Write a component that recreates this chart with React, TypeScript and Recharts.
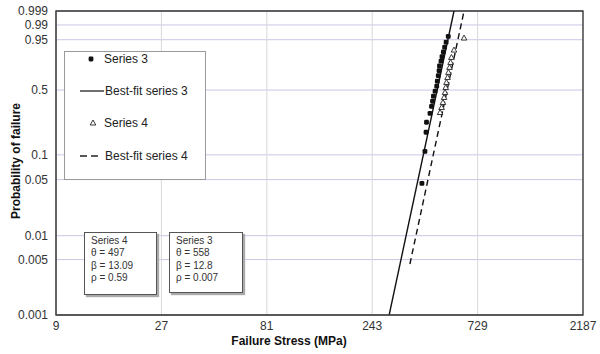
import { ComposedChart, XAxis, YAxis, CartesianGrid, Scatter, Line, Legend, ReferenceArea, Label } from "recharts";

const xTicks = [9, 27, 81, 243, 729, 2187];
const yTickProbs = [0.001, 0.005, 0.01, 0.05, 0.1, 0.5, 0.95, 0.99, 0.999];
const yTickLabels = ["0.001", "0.005", "0.01", "0.05", "0.1", "0.5", "0.95", "0.99", "0.999"];

// failure stress (MPa) and probability of failure
const series3Stress = [408, 421, 426, 428, 444, 451, 456, 460, 468, 476, 479, 484, 488, 490, 498, 503, 510, 517, 525, 537];
const series3Prob = [0.045, 0.11, 0.184, 0.238, 0.297, 0.351, 0.394, 0.44, 0.489, 0.54, 0.593, 0.652, 0.704, 0.754, 0.8, 0.84, 0.877, 0.911, 0.939, 0.963];

const series4Stress = [493, 501, 508, 514, 519, 523, 527, 533, 538, 544, 550, 555, 570, 633];
const series4Prob = [0.303, 0.341, 0.383, 0.428, 0.476, 0.526, 0.579, 0.632, 0.686, 0.738, 0.787, 0.833, 0.891, 0.957];

const fit3Stress = [290, 570];
const fit3Prob = [0.001, 0.999];
const fit4Stress = [360, 633];
const fit4Prob = [0.0044, 0.999];

const series4Params = ["Series 4", "θ = 497", "β = 13.09", "ρ = 0.59"];
const series3Params = ["Series 3", "θ = 558", "β = 12.8", "ρ = 0.007"];

// Weibull probability scale
const weibull = (p: number) => Math.log(-Math.log(1 - p));
const toPoints = (xs: number[], ps: number[]) => xs.map((x, i) => ({ x, y: weibull(ps[i]) }));

const yTicks = yTickProbs.map(weibull);
const yMin = weibull(0.001);
const yMax = weibull(0.999);

const FONT = "'Liberation Sans', Arial, sans-serif";

const yTickFormat = (v: number) => {
  let best = 0;
  yTicks.forEach((t, i) => {
    if (Math.abs(t - v) < Math.abs(yTicks[best] - v)) best = i;
  });
  return yTickLabels[best];
};

const Square = (p: any) => <rect x={p.cx - 2.4} y={p.cy - 2.4} width={4.8} height={4.8} rx={1.3} fill="#111" />;
const Triangle = (p: any) => (
  <path d={`M${p.cx},${p.cy - 3} L${p.cx + 2.8},${p.cy + 2} L${p.cx - 2.8},${p.cy + 2} Z`} fill="#fff" stroke="#222" strokeWidth={0.9} />
);

const renderLegend = () => (
  <svg width={142} height={129} style={{ display: "block" }}>
    <rect x={0.5} y={0.5} width={141} height={128} fill="#fff" stroke="#9a9a9a" />
    <g fontFamily={FONT} fontSize={12} fill="#222">
      <rect x={24.6} y={5.6} width={4.8} height={4.8} rx={1.3} fill="#111" />
      <text x={40} y={8} dominantBaseline="central">Series 3</text>
      <line x1={16} x2={40} y1={40} y2={40} stroke="#222" strokeWidth={1.3} />
      <text x={41} y={40} dominantBaseline="central">Best-fit series 3</text>
      <path d="M29,69 L31.8,74 L26.2,74 Z" fill="#fff" stroke="#222" strokeWidth={0.9} />
      <text x={40} y={72} dominantBaseline="central">Series 4</text>
      <line x1={16} x2={38} y1={105} y2={105} stroke="#222" strokeWidth={1.3} strokeDasharray="7 4" />
      <text x={41} y={105} dominantBaseline="central">Best-fit series 4</text>
    </g>
  </svg>
);

const boxStyle = (left: number, top: number, width: number, height: number): React.CSSProperties => ({
  position: "absolute",
  left,
  top,
  width,
  height,
  boxSizing: "border-box",
  border: "1px solid #555",
  boxShadow: "2px 2px 1px #aaa",
  background: "#fff",
  padding: "2px 0 0 6px",
  fontFamily: FONT,
  fontSize: 10,
  lineHeight: "12.3px",
  color: "#333",
});

const App = () => {
  return (
    <div style={{ position: "absolute", left: 0, top: 0, width: 600, height: 354, background: "#fff" }}>
      <ComposedChart width={600} height={354} margin={{ top: 11, right: 17, bottom: 0, left: 0 }}>
        <CartesianGrid horizontal vertical={false} stroke="#cbc6e8" />
        <CartesianGrid horizontal={false} vertical stroke="#d8d8d8" />
        <XAxis
          dataKey="x"
          type="number"
          scale="log"
          domain={[9, 2187]}
          ticks={xTicks}
          interval={0}
          allowDataOverflow
          height={39}
          tickLine={false}
          tickMargin={0}
          axisLine={{ stroke: "#555" }}
          tick={{ fontSize: 12, fill: "#333", fontFamily: FONT }}
        >
          <Label
            content={() => (
              <text x={289} y={341} textAnchor="middle" dominantBaseline="central" fontFamily={FONT} fontSize={12} fontWeight="bold" fill="#111">
                Failure Stress (MPa)
              </text>
            )}
          />
        </XAxis>
        <YAxis
          dataKey="y"
          type="number"
          domain={[yMin, yMax]}
          ticks={yTicks}
          interval={0}
          allowDataOverflow
          width={56}
          tickLine={false}
          axisLine={{ stroke: "#555" }}
          tickFormatter={yTickFormat}
          tick={{ fontSize: 12, fill: "#333", fontFamily: FONT }}
        >
          <Label
            content={() => (
              <text x={16} y={161} transform="rotate(-90 16 161)" textAnchor="middle" dominantBaseline="central" fontFamily={FONT} fontSize={12} fontWeight="bold" fill="#111">
                Probability of failure
              </text>
            )}
          />
        </YAxis>
        <ReferenceArea x1={9} x2={2187} y1={yMin} y2={yMax} fill="none" stroke="#333" strokeWidth={1.3} ifOverflow="visible" />
        <Line data={toPoints(fit3Stress, fit3Prob)} dataKey="y" stroke="#111" strokeWidth={1.4} dot={false} isAnimationActive={false} />
        <Line data={toPoints(fit4Stress, fit4Prob)} dataKey="y" stroke="#111" strokeWidth={1.4} strokeDasharray="6 4" dot={false} isAnimationActive={false} />
        <Scatter data={toPoints(series3Stress, series3Prob)} shape={Square} isAnimationActive={false} />
        <Scatter data={toPoints(series4Stress, series4Prob)} shape={Triangle} isAnimationActive={false} />
        <Legend
          layout="horizontal"
          verticalAlign="middle"
          align="center"
          content={renderLegend}
          wrapperStyle={{ position: "absolute", left: 64, top: 51, width: 142, height: 129 }}
        />
      </ComposedChart>
      <div style={boxStyle(84, 232, 73, 63)}>
        {series4Params.map((t) => (
          <div key={t}>{t}</div>
        ))}
      </div>
      <div style={boxStyle(169, 232, 74, 61)}>
        {series3Params.map((t) => (
          <div key={t}>{t}</div>
        ))}
      </div>
    </div>
  );
};

export default App;
